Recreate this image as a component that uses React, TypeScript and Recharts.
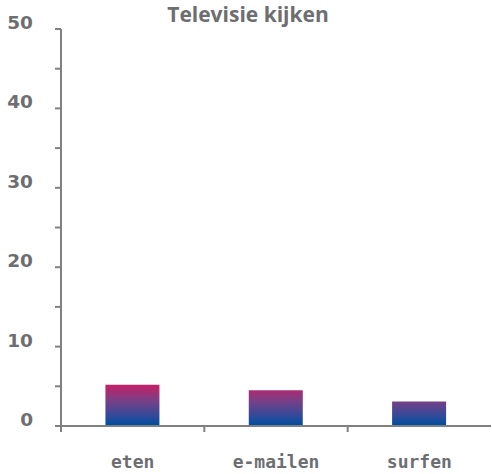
import { BarChart, Bar, XAxis, YAxis } from 'recharts'

const categories = ['eten', 'e-mailen', 'surfen']
const values = [5.2, 4.5, 3.1]
const yTicks = [0, 5, 10, 15, 20, 25, 30, 35, 40, 45, 50]

const data = categories.map((name, i) => ({ name, value: values[i] }))

const GREY = '#6d6e71'
const AXIS = '#808080'
const W = 492
const H = 474
const LEFT = 61
const RIGHT = 1
const band = (W - LEFT - RIGHT) / categories.length

function XTick(props: any) {
  const { x, y, payload } = props
  const axisY = y - 8
  return (
    <g>
      <line x1={x - band / 2} x2={x - band / 2} y1={axisY} y2={axisY + 6} stroke={AXIS} strokeWidth={2} />
      <text x={x} y={468} textAnchor="middle" fill={GREY} fontFamily="DejaVu Sans Mono" fontWeight="bold" fontSize={18}>
        {payload.value}
      </text>
    </g>
  )
}

function YTick(props: any) {
  const { y, payload } = props
  if (payload.value % 10 !== 0) return null
  return (
    <text x={33} y={y} textAnchor="end" fill={GREY} fontFamily="DejaVu Sans" fontWeight="bold" fontSize={18.5}>
      {payload.value}
    </text>
  )
}

export default function App() {
  return (
    <div style={{ position: 'absolute', left: 0, top: 0, width: W, height: H, background: '#fff' }}>
      <div
        style={{
          position: 'absolute',
          left: 0,
          width: W,
          top: 0,
          textAlign: 'center',
          fontFamily: 'Open Sans',
          fontWeight: 700,
          fontSize: 21,
          color: GREY,
          paddingLeft: 2,
        }}
      >
        Televisie kijken
      </div>
      <BarChart width={W} height={H} data={data} margin={{ top: 29, right: RIGHT, left: 0, bottom: 0 }} barCategoryGap="31%">
        <defs>
          <linearGradient id="barFill" gradientUnits="userSpaceOnUse" x1="0" y1="384" x2="0" y2="425">
            <stop offset="0%" stopColor="#c91f66" />
            <stop offset="40%" stopColor="#7b3f86" />
            <stop offset="80%" stopColor="#2d4b9b" />
            <stop offset="100%" stopColor="#004f9f" />
          </linearGradient>
        </defs>
        <XAxis
          dataKey="name"
          height={48}
          axisLine={{ stroke: AXIS, strokeWidth: 2 }}
          tickLine={false}
          tick={<XTick />}
          interval={0}
        />
        <YAxis
          width={LEFT}
          domain={[0, 50]}
          ticks={yTicks}
          interval={0}
          axisLine={{ stroke: AXIS, strokeWidth: 2 }}
          tickLine={{ stroke: AXIS, strokeWidth: 2 }}
          tickSize={6}
          tick={<YTick />}
        />
        <Bar dataKey="value" fill="url(#barFill)" isAnimationActive={false} />
      </BarChart>
    </div>
  )
}
